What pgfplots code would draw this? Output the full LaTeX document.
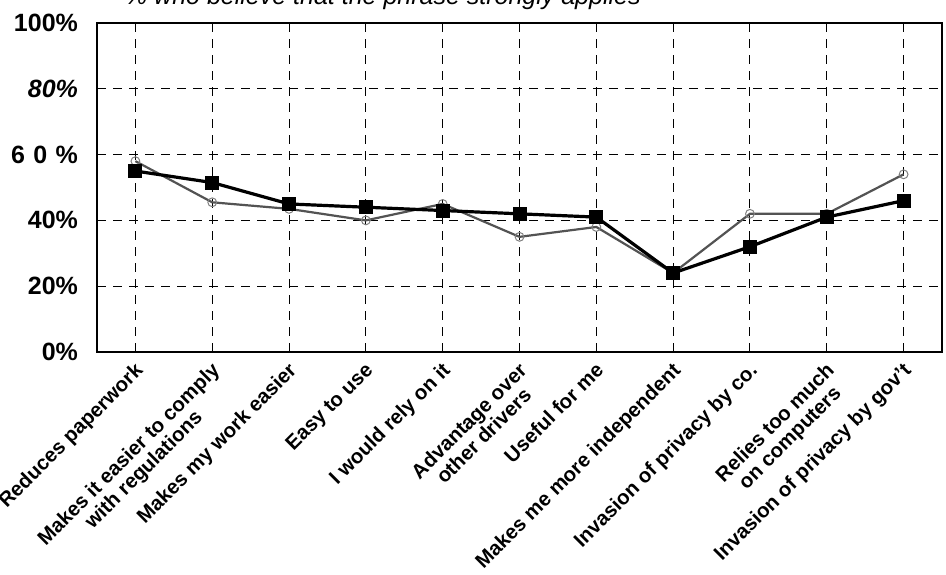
\documentclass[border=0pt]{standalone}
\usepackage{pgfplots}
\pgfplotsset{compat=1.18}
\usepackage{fontspec}
\setmainfont{Liberation Sans}

\begin{document}
\begin{tikzpicture}
\begin{axis}[
    scale only axis,
    width=422.5pt, height=164.5pt,
    xmin=-0.5, xmax=10.5,
    ymin=0, ymax=100,
    xtick={0,...,10},
    xticklabels={Reduces paperwork,
        {Makes it easier to comply\\with regulations},
        Makes my work easier,
        Easy to use,
        I would rely on it,
        {Advantage over\\other drivers},
        Useful for me,
        Makes me more independent,
        Invasion of privacy by co.,
        {Relies too much\\on computers},
        Invasion of privacy by gov't},
    ytick={0,20,40,60,80,100},
    yticklabels={0\%,20\%,40\%,{6\,\,0\,\,\%},\textit{80\%},100\%},
    grid=major,
    major grid style={black, line width=0.5pt, dash pattern=on 4.5pt off 3.5pt},
    axis line style={line width=1pt},
    major tick length=0pt,
    xticklabel style={yshift=-3pt, xshift=-1pt, rotate=45, anchor=north east, align=center,
        font=\bfseries\fontsize{10.2}{10.5}\selectfont, inner sep=1pt},
    yticklabel style={font=\bfseries\fontsize{12.5}{14}\selectfont, xshift=-6pt},
]
% share who say the phrase strongly applies, second group
\addplot[gray!65!black, line width=1.1pt, mark=o,
    mark options={solid, draw=gray, line width=0.5pt}, mark size=2.2pt]
    coordinates {(0,58) (1,45.5) (2,43.5) (3,40) (4,45) (5,35) (6,38) (7,24) (8,42) (9,42) (10,54)};
% first group
\addplot[black, line width=1.6pt, mark=square*, mark size=2.7pt]
    coordinates {(0,55) (1,51.5) (2,45) (3,44) (4,43) (5,42) (6,41) (7,24) (8,32) (9,41) (10,46)};
\end{axis}
\node[anchor=base west, font=\itshape\fontsize{12.5}{14}\selectfont]
    at ([xshift=10.5pt, yshift=9pt]current axis.north west)
    {\% who believe that the phrase strongly applies};
\pgfresetboundingbox
\path[use as bounding box] ([xshift=-48.5pt, yshift=-111.5pt]current axis.south west)
    rectangle ([xshift=2pt, yshift=11.5pt]current axis.north east);
\end{tikzpicture}
\end{document}
